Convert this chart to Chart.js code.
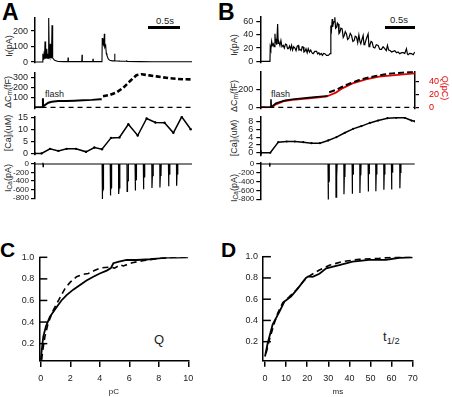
<!DOCTYPE html>
<html>
<head>
<meta charset="utf-8">
<title>Flash photolysis traces</title>
<script src="https://cdn.jsdelivr.net/npm/chart.js@4.4.1/dist/chart.umd.min.js"></script>
<style>
  html, body { margin: 0; padding: 0; background: #fff; }
  #fig { position: relative; width: 452px; height: 397px; overflow: hidden;
         font-family: "Liberation Sans", Arial, sans-serif; color: #222; }
  #fig canvas { position: absolute; left: 0; top: 0; }
  .t { position: absolute; white-space: nowrap; line-height: 1; }
  .letter { font-weight: bold; font-size: 23px; color: #000; }
  .yl { position: absolute; white-space: nowrap; line-height: 1; font-size: 9px;
        transform: translate(-50%, -50%) rotate(-90deg); }
  .yr { transform: translate(-50%, -50%) rotate(90deg); color: #e00000; }
  sub { font-size: 0.72em; vertical-align: -0.3em; line-height: 0; }
  .bar { position: absolute; background: #000; }
</style>
</head>
<body>
<div id="fig">
  <div class="t letter" style="left:2px;top:1px">A</div>
  <div class="t letter" style="left:218px;top:1px">B</div>
  <div class="t letter" style="left:0px;top:239px;font-size:21px">C</div>
  <div class="t letter" style="left:221px;top:239px;font-size:21px">D</div>

  <div class="t" style="left:156px;top:16px;font-size:9.5px">0.5s</div>
  <div class="bar" style="left:148px;top:25.5px;width:32px;height:3.5px"></div>
  <div class="t" style="left:390px;top:15px;font-size:9.5px">0.5s</div>
  <div class="bar" style="left:385px;top:25.5px;width:30px;height:3.5px"></div>

  <div class="t" style="left:45px;top:90px;font-size:9px">flash</div>
  <div class="t" style="left:271px;top:90px;font-size:9px">flash</div>

  <div class="yl" style="left:8.5px;top:46px">I<sub>f</sub>(pA)</div>
  <div class="yl" style="left:7.5px;top:92px">ΔC<sub>m</sub>(fF)</div>
  <div class="yl" style="left:7.5px;top:133px">[Ca]<sub>i</sub>(uM)</div>
  <div class="yl" style="left:8px;top:178px">I<sub>Ca</sub>(pA)</div>
  <div class="yl" style="left:234px;top:45px">I<sub>f</sub>(pA)</div>
  <div class="yl" style="left:233.5px;top:96px">ΔC<sub>m</sub>(fF)</div>
  <div class="yl" style="left:233.5px;top:138px">[Ca]<sub>i</sub>(uM)</div>
  <div class="yl" style="left:234px;top:188px">I<sub>Ca</sub>(pA)</div>
  <div class="yl yr" style="left:444px;top:88px">Q(pC)</div>

  <div class="t" style="left:154px;top:333px;font-size:13px">Q</div>
  <div class="t" style="left:383px;top:330px;font-size:13px">t<sub>1/2</sub></div>
</div>

<script>
// ---- panel A (time in s) ----
const aIfT = [0, 0.116, 0.12, 0.125, 0.135, 0.138, 0.142, 0.15, 0.153, 0.157,
  0.168, 0.173, 0.177, 0.183, 0.187, 0.195, 0.199, 0.203, 0.211, 0.214,
  0.218, 0.224, 0.228, 0.234, 0.238, 0.246, 0.25, 0.254, 0.26, 0.265,
  0.275, 0.3, 0.352, 0.45, 0.502, 0.506, 0.51, 0.6, 0.715, 0.719,
  0.723, 0.8, 0.883, 0.887, 0.891, 0.95, 1.024, 1.028, 1.035, 1.045,
  1.052, 1.06, 1.066, 1.08, 1.09, 1.1, 1.12, 1.142, 1.18, 1.214,
  1.218, 1.222, 1.3, 1.397, 1.4, 1.405, 1.6, 1.8, 2.0, 2.2,
  2.4];
const aIfV = [0, 1, 54, 22, 20, 43, 22, 24, 133, 26,
  22, 54, 24, 86, 26, 24, 54, 22, 28, 284,
  40, 65, 30, 118, 30, 28, 43, 30, 237, 35,
  26, 11, 4, 3, 3, 30, 4, 3, 3, 47,
  4, 3, 3, 21, 4, 3, 3, 155, 110, 150,
  100, 183, 95, 108, 55, 43, 20, 11, 8, 8,
  54, 8, 6, 5, 12, 4, 3, 2, 2, 2,
  2];
const aIfTicks = [0, 100, 200];

const aCmT = [0, 0.118, 0.121, 0.124, 0.153, 0.204, 0.255, 0.357, 0.484, 0.6, 0.739, 0.87, 0.994, 1.02];
const aCmV = [0, 0, 90, 8, 23, 46, 56, 63, 63, 66, 70, 74, 80, 80];
const aCm2T = [1.04, 1.15, 1.25, 1.35, 1.45, 1.55, 1.63, 1.75, 1.86, 1.96, 2.06, 2.17, 2.26, 2.4];
const aCm2V = [110, 125, 150, 195, 260, 320, 330, 318, 308, 298, 290, 283, 280, 278];
const aCmTicks = [100, 200, 300];

const aCaT = [0, 0.10, 0.23, 0.357, 0.484, 0.627, 0.78, 0.907, 1.024, 1.162,
  1.29, 1.427, 1.57, 1.707, 1.84, 1.98, 2.115, 2.243, 2.38];
const aCaV = [0, 0, 1.94, 1.1, 1.94, 1.94, 0.7, 2.5, 1.8, 6.5,
  6.7, 12.2, 7.5, 14.6, 12.9, 12.8, 8.6, 15.3, 10.1];
const aCaTicks = [0, 5, 10, 15];

// depolarising pulses: onset time, peak current, sustained current
const aPulseT = [1.026, 1.15, 1.277, 1.406, 1.53, 1.656, 1.786, 1.908, 2.04, 2.163];
const aPulsePeak = [-820, -740, -700, -640, -620, -590, -560, -550, -520, -510];
const aPulseHold = [-650, -610, -560, -430, -400, -330, -300, -270, -255, -230];
const aFlashT = 0.12;
const iCaTicks = [0, -200, -400, -600, -800];

// ---- panel B ----
const bIfT = [0, 0.165, 0.17, 0.18, 0.194, 0.205, 0.222, 0.235, 0.25, 0.258,
  0.267, 0.28, 0.296, 0.305, 0.318, 0.335, 0.352, 0.37, 0.392, 0.41,
  0.43, 0.449, 0.465, 0.478, 0.5, 0.515, 0.534, 0.55, 0.57, 0.591,
  0.61, 0.63, 0.648, 0.66, 0.676, 0.7, 0.715, 0.733, 0.745, 0.761,
  0.78, 0.8, 0.818, 0.84, 0.86, 0.875, 0.89, 0.903, 0.93, 0.96,
  0.98, 1.0, 1.017, 1.04, 1.06, 1.08, 1.102, 1.13, 1.159, 1.175,
  1.19, 1.204, 1.215, 1.227, 1.235, 1.244, 1.258, 1.272, 1.285, 1.301,
  1.315, 1.329, 1.343, 1.358, 1.375, 1.397, 1.415, 1.432, 1.45, 1.471,
  1.49, 1.511, 1.535, 1.557, 1.58, 1.602, 1.62, 1.642, 1.662, 1.682,
  1.7, 1.715, 1.735, 1.755, 1.77, 1.784, 1.81, 1.84, 1.855, 1.869,
  1.89, 1.908, 1.93, 1.954, 1.98, 2.011, 2.04, 2.068, 2.095, 2.124,
  2.15, 2.17, 2.19, 2.21, 2.24, 2.267, 2.295, 2.324, 2.35, 2.381,
  2.41, 2.437, 2.465, 2.494, 2.51, 2.522, 2.55, 2.579, 2.61, 2.635];
const bIfV = [0, 0, 21.5, 18, 30, 24, 26.5, 22, 41.5, 28,
  34, 25, 56.5, 27, 29, 24, 31.5, 22, 24, 20,
  26, 25, 19, 19, 23, 18, 24, 17, 22, 20,
  16, 23, 24, 17, 18, 16, 22, 21.5, 14, 15,
  19, 13, 19, 14, 17, 14, 12, 11.5, 15, 15,
  11, 13, 10, 12, 9, 12, 11.5, 9, 9, 10,
  11.5, 54, 48, 64, 52, 56.5, 60, 66.5, 50, 51.5,
  58, 56.5, 42, 44, 50, 49, 36, 39, 45, 41.5,
  33, 35, 42, 39, 30, 31.5, 38, 36.5, 28, 40,
  30, 26.5, 33, 39, 25, 26.5, 34, 41.5, 22, 24,
  30, 29, 21, 20, 25, 24, 18, 18, 22, 19,
  16, 24, 17, 16.5, 14, 15, 16, 13, 14, 11.5,
  13, 13, 12, 19, 11, 10, 12, 11.5, 10, 14];
const bIfTicks = [0, 20, 40, 60];

const bCmT = [0, 0.178, 0.182, 0.186, 0.21, 0.267, 0.41, 0.55, 0.835, 1.12, 1.15];
const bCmV = [0, 0, 89, 5, 15, 44, 74, 89, 107, 126, 128];
const bCm2T = [1.176, 1.3, 1.4, 1.55, 1.687, 1.83, 1.97, 2.11, 2.256, 2.45, 2.635];
const bCm2V = [168, 195, 228, 270, 303, 328, 348, 364, 377, 388, 396];
const bQT = [0, 0.18, 0.21, 0.267, 0.41, 0.55, 0.835, 1.12, 1.153, 1.29, 1.4, 1.574, 1.8, 2.027, 2.256, 2.635];
const bQV = [0, 0, 1, 4.6, 9.7, 11.3, 13.9, 16.4, 17.4, 22.6, 29.2, 36.9, 43.1, 47.2, 49.2, 52.3];
const bCmTicks = [0, 200];
const bQTicks = [0, 20, 40];

const bCaT = [0, 0.01, 0.17, 0.307, 0.45, 0.59, 0.733, 0.875, 1.017, 1.158,
  1.3, 1.443, 1.584, 1.727, 1.869, 2.01, 2.17, 2.32, 2.465, 2.58, 2.635];
const bCaV = [0.6, 0.05, 0.05, 2.73, 2.9, 2.9, 2.73, 2.48, 2.48, 3.16,
  4.0, 5.1, 6.1, 6.8, 7.6, 8.2, 8.8, 8.9, 8.9, 8.2, 8.0];
const bCaTicks = [0, 2, 4, 6, 8];

const bPulseT = [1.156, 1.29, 1.426, 1.567, 1.698, 1.84, 1.97, 2.107, 2.238, 2.38];
const bPulsePeak = [-810, -755, -690, -680, -660, -625, -620, -585, -580, -550];
const bPulseHold = [-430, -320, -280, -250, -245, -240, -225, -225, -200, -190];
const bFlashT = 0.16;

// ---- panels C and D: cumulative distributions ----
const cSolidX = [0, 0.05, 0.17, 0.35, 0.62, 1.08, 1.4, 1.75, 2.2, 2.66, 3.1, 3.56, 4.0,
  4.47, 4.75, 4.92, 5.3, 5.82, 6.5, 7.4, 8.0, 8.53, 9.2, 10];
const cSolidY = [0.05, 0.12, 0.265, 0.36, 0.45, 0.54, 0.6, 0.65, 0.70, 0.744, 0.785, 0.82, 0.85,
  0.877, 0.9, 0.945, 0.96, 0.976, 0.975, 0.982, 0.99, 0.998, 0.998, 1.0];
const cDashX = [0.06, 0.15, 0.28, 0.5, 0.85, 1.2, 1.64, 2.0, 2.43, 2.8, 3.22, 3.6, 4.0,
  4.35, 4.7, 5.0, 5.37, 5.6, 6.2, 7.0, 8.0, 9.0, 10];
const cDashY = [0.05, 0.15, 0.265, 0.39, 0.51, 0.6, 0.71, 0.77, 0.82, 0.84, 0.85, 0.875, 0.9,
  0.905, 0.91, 0.9, 0.93, 0.92, 0.95, 0.97, 0.99, 1.0, 1.0];
const cXTicks = [0, 2, 4, 6, 8, 10];

const dSolidX = [0, 1.26, 3.6, 6.8, 9.2, 12.3, 15.5, 19.4, 20.5, 22.6, 25.8, 29, 35.2, 41.5, 49.4, 57.3, 63.6, 70];
const dSolidY = [0.06, 0.185, 0.36, 0.48, 0.577, 0.625, 0.70, 0.80, 0.815, 0.81, 0.84, 0.89, 0.92, 0.954, 0.97, 0.97, 0.99, 0.995];
const dDashX = [0.5, 2.05, 4.4, 6.0, 8.4, 11.6, 14.8, 18.7, 21.8, 25.8, 30.5, 36.8, 44.7, 54.2, 63.6, 70];
const dDashY = [0.09, 0.216, 0.373, 0.467, 0.567, 0.625, 0.687, 0.78, 0.828, 0.875, 0.92, 0.954, 0.976, 0.985, 1.0, 1.0];
const dXTicks = [0, 10, 20, 30, 40, 50, 60, 70];
const fracTicks = [0.2, 0.4, 0.6, 0.8, 1.0];

// ---------------------------------------------
const W = 452, H = 397;
const fig = document.getElementById('fig');

Chart.defaults.font.family = '"Liberation Sans", Arial, sans-serif';
Chart.defaults.color = '#222';
Chart.defaults.animation = false;
Chart.defaults.events = [];
Chart.defaults.plugins.legend.display = false;
Chart.defaults.plugins.tooltip.enabled = false;
Chart.defaults.elements.point.radius = 0;
Chart.defaults.elements.line.tension = 0;

const pts = (xs, ys) => xs.map((x, i) => ({ x: x, y: ys[i] }));

// current trace: baseline, flash artefact, then one spike per pulse
function iCaTrace(flashT, pulseT, peak, hold, tEnd) {
  const p = [{ x: 0, y: 0 }, { x: flashT - 0.004, y: 0 }, { x: flashT, y: 90 },
    { x: flashT + 0.004, y: -60 }, { x: flashT + 0.008, y: 0 }];
  pulseT.forEach((t, i) => {
    p.push({ x: t, y: 0 }, { x: t + 0.002, y: peak[i] }, { x: t + 0.008, y: hold[i] },
      { x: t + 0.018, y: hold[i] * 0.9 }, { x: t + 0.021, y: 0 });
  });
  p.push({ x: tEnd, y: 0 });
  return p;
}

function yAxis(min, max, ticks, o) {
  return {
    type: 'linear', position: o.position || 'left', min: min, max: max,
    afterBuildTicks: s => { s.ticks = ticks.map(v => ({ value: v })); },
    afterFit: s => { s.width = o.width; s.paddingTop = 0; s.paddingBottom = 0; },
    grid: { drawOnChartArea: false, drawTicks: o.tick > 0, tickLength: o.tick || 0, color: '#000', lineWidth: 1.2 },
    border: { display: true, color: '#000', width: 1.5 },
    ticks: { padding: o.pad, autoSkip: false, color: o.color || '#222',
      font: { size: o.font || 9 }, callback: o.fmt || (v => String(v)) }
  };
}

function xHidden(max) {
  return { type: 'linear', display: false, min: 0, max: max };
}

function xShown(min, max, ticks, title) {
  return {
    type: 'linear', min: min, max: max,
    afterBuildTicks: s => { s.ticks = ticks.map(v => ({ value: v })); },
    afterFit: s => { s.height = 36; s.paddingLeft = 0; s.paddingRight = 0; },
    grid: { drawOnChartArea: false, tickLength: 6, color: '#000', lineWidth: 1.5 },
    border: { display: true, color: '#000', width: 1.5 },
    ticks: { padding: 6, autoSkip: false, maxRotation: 0, font: { size: 9 }, color: '#222' },
    title: { display: true, text: title, font: { size: 8 }, padding: 0, color: '#222' }
  };
}

function inwardTicks(len) {
  return {
    id: 'inwardTicks',
    afterDraw(chart) {
      const s = chart.scales.y, ctx = chart.ctx;
      ctx.save();
      ctx.strokeStyle = '#000';
      ctx.lineWidth = 1.5;
      s.ticks.forEach(t => {
        const py = s.getPixelForValue(t.value);
        ctx.beginPath();
        ctx.moveTo(s.right, py);
        ctx.lineTo(s.right + len, py);
        ctx.stroke();
      });
      ctx.restore();
    }
  };
}

// area = plot rectangle in page pixels
function makeChart(area, scales, datasets, plugins) {
  const canvas = document.createElement('canvas');
  canvas.width = W;
  canvas.height = H;
  fig.appendChild(canvas);
  const yW = scales.y.afterFitWidth;
  const y2W = scales.y2 ? scales.y2.afterFitWidth : 0;
  const xH = scales.x.display === false ? 0 : 36;
  Object.values(scales).forEach(s => delete s.afterFitWidth);
  return new Chart(canvas, {
    type: 'line',
    data: { datasets: datasets },
    options: {
      responsive: false,
      layout: { padding: { left: area.l - yW, top: area.t, right: W - area.r - y2W, bottom: H - area.b - xH } },
      scales: scales
    },
    plugins: plugins || []
  });
}

function withW(axis, w) { axis.afterFitWidth = w; return axis; }

const black = (data, extra) => Object.assign({ data: data, borderColor: '#000', borderWidth: 1.2, pointRadius: 0 }, extra || {});

// ---- A ----
makeChart({ l: 35, t: 17.7, r: 192, b: 63 }, {
  x: xHidden(2.4),
  y: withW(yAxis(-6, 286, aIfTicks, { width: 35, tick: 4, pad: 3 }), 35)
}, [black(pts(aIfT, aIfV), { borderWidth: 1.1 })]);

makeChart({ l: 35, t: 72.7, r: 192, b: 108.3 }, {
  x: xHidden(2.4),
  y: withW(yAxis(-10, 345, aCmTicks, { width: 35, tick: 4, pad: 3 }), 35)
}, [
  black(pts([0.1, 2.4], [0, 0]), { borderDash: [5, 4], borderWidth: 1.2 }),
  black(pts(aCmT, aCmV), { borderWidth: 2 }),
  black(pts(aCm2T, aCm2V), { borderWidth: 2.6, borderDash: [5, 2.5] })
]);

makeChart({ l: 35, t: 116.3, r: 192, b: 154.7 }, {
  x: xHidden(2.4),
  y: withW(yAxis(-0.5, 15.5, aCaTicks, { width: 35, tick: 4, pad: 3 }), 35)
}, [black(pts(aCaT, aCaV), { borderWidth: 1.5, pointRadius: 1.2, pointBackgroundColor: '#000', pointBorderWidth: 0 })]);

makeChart({ l: 35, t: 162.7, r: 192, b: 199 }, {
  x: xHidden(2.4),
  y: withW(yAxis(-820, 30, iCaTicks, { width: 35, tick: 4, pad: 2, font: 8 }), 35)
}, [black(iCaTrace(aFlashT, aPulseT, aPulsePeak, aPulseHold, 2.4), { borderWidth: 1.2 })]);

// ---- B ----
makeChart({ l: 260.3, t: 17, r: 415, b: 62.6 }, {
  x: xHidden(2.64),
  y: withW(yAxis(-2, 67, bIfTicks, { width: 30, tick: 4, pad: 3 }), 30)
}, [black(pts(bIfT, bIfV), { borderWidth: 1.2 })]);

makeChart({ l: 260.3, t: 71.3, r: 415, b: 108.2 }, {
  x: xHidden(2.64),
  y: withW(yAxis(-10, 400, bCmTicks, { width: 30, tick: 4, pad: 3 }), 30),
  y2: withW(yAxis(-1.4, 55.4, bQTicks, { width: 37, tick: 4, pad: 10, position: 'right', color: '#e00000' }), 37)
}, [
  black(pts([0, 2.635], [0, 0]), { borderDash: [5, 4], borderWidth: 1.2 }),
  black(pts(bCmT, bCmV), { borderWidth: 1.6 }),
  black(pts(bCm2T, bCm2V), { borderWidth: 2, borderDash: [6, 3] }),
  { data: pts(bQT, bQV), yAxisID: 'y2', borderColor: '#e00000', borderWidth: 1.8, pointRadius: 0 }
]);

makeChart({ l: 260.3, t: 117, r: 415, b: 155.3 }, {
  x: xHidden(2.64),
  y: withW(yAxis(-0.6, 9.1, bCaTicks, { width: 30, tick: 4, pad: 3 }), 30)
}, [black(pts(bCaT, bCaV), { borderWidth: 1.5, pointRadius: 1.1, pointBackgroundColor: '#000', pointBorderWidth: 0 })]);

makeChart({ l: 260.3, t: 162.7, r: 415, b: 200 }, {
  x: xHidden(2.64),
  y: withW(yAxis(-820, 30, iCaTicks, { width: 30, tick: 4, pad: 2, font: 8 }), 30)
}, [black(iCaTrace(bFlashT, bPulseT, bPulsePeak, bPulseHold, 2.635), { borderWidth: 1.2 })]);

// ---- C ----
const frac = v => v.toFixed(1);
makeChart({ l: 39.3, t: 257.3, r: 188.3, b: 360.9 }, {
  x: xShown(-0.1, 10, cXTicks, 'pC'),
  y: withW(yAxis(0.04, 1.0, fracTicks, { width: 39, tick: 0, pad: 5, fmt: frac }), 39)
}, [
  black(pts(cDashX, cDashY), { borderWidth: 1.6, borderDash: [6, 4] }),
  black(pts(cSolidX, cSolidY), { borderWidth: 1.8 })
], [inwardTicks(8)]);

// ---- D ----
makeChart({ l: 262.9, t: 256.7, r: 412.7, b: 360.8 }, {
  x: xShown(-1, 70, dXTicks, 'ms'),
  y: withW(yAxis(0.02, 1.0, fracTicks, { width: 30, tick: 0, pad: 5, fmt: frac }), 30)
}, [
  black(pts(dDashX, dDashY), { borderWidth: 1.6, borderDash: [6, 4] }),
  black(pts(dSolidX, dSolidY), { borderWidth: 1.8 })
], [inwardTicks(8)]);
</script>
</body>
</html>
